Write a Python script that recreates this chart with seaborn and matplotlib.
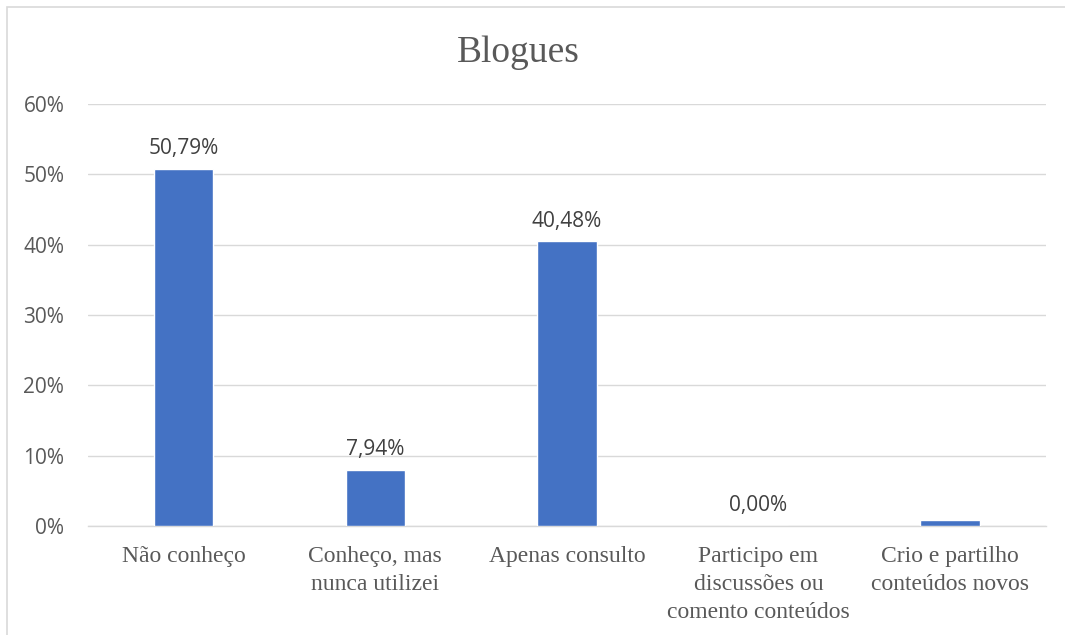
import numpy as np
import pandas as pd
import seaborn as sns
import matplotlib.pyplot as plt
from matplotlib.patches import Rectangle

# dados do grafico
categorias = ["Não conheço", "Conheço, mas\nnunca utilizei", "Apenas consulto",
              "Participo em\ndiscussões ou\ncomento conteúdos", "Crio e partilho\nconteúdos novos"]
valores = [50.79, 7.94, 40.48, 0.00, 0.79]
rotulos = ["50,79%", "7,94%", "40,48%", "0,00%", ""]
yticks = [0, 10, 20, 30, 40, 50, 60]

sns.set_style("white")
plt.rcParams['font.family'] = ['Open Sans', 'DejaVu Sans']

df = pd.DataFrame({"cat": categorias, "val": valores})

fig = plt.figure(figsize=(10.65, 6.35), dpi=100)
ax = fig.add_axes([0.0826, 0.1717, 0.8994, 0.6645])

sns.barplot(data=df, x="cat", y="val", color="#4472C4", width=0.31,
            saturation=1, ax=ax, zorder=3)

ax.set_ylim(0, 60)
ax.set_yticks(yticks)
ax.set_yticklabels([f"{t}%" for t in yticks], fontsize=15, color="#595959")
ax.yaxis.grid(True, color="#D9D9D9", linewidth=1, zorder=0)
ax.tick_params(axis="both", length=0)
ax.tick_params(axis="y", pad=17)
ax.tick_params(axis="x", pad=14.5)
for lbl in ax.get_xticklabels():
    lbl.set_fontfamily("Liberation Serif")
    lbl.set_fontsize(17)
    lbl.set_color("#595959")
    lbl.set_linespacing(1.42)
    lbl.set_verticalalignment("top")

for s in ["top", "right", "left"]:
    ax.spines[s].set_visible(False)
ax.spines["bottom"].set_color("#D9D9D9")
ax.spines["bottom"].set_linewidth(1)
ax.set_xlabel("")
ax.set_ylabel("")

for i, (v, r) in enumerate(zip(valores, rotulos)):
    if r:
        ax.annotate(r, (i, v), xytext=(0, 7), textcoords="offset points",
                    ha="center", va="bottom", fontsize=15, color="#404040")

fig.text(0.487, 0.917, "Blogues", ha="center", va="center",
         fontfamily="Liberation Serif", fontsize=27, color="#595959")

# moldura
fig.patches.append(Rectangle((7 / 1065, -0.01), 1.2, 1 - 7 / 635 + 0.01,
                             transform=fig.transFigure, fill=False,
                             edgecolor="#D9D9D9", linewidth=1.2))

fig.savefig("out.png", dpi=100)
